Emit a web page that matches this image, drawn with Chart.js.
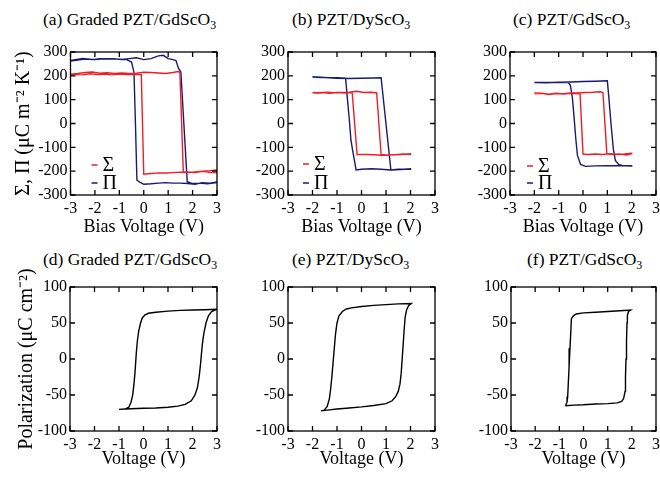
<!DOCTYPE html>
<html>
<head>
<meta charset="utf-8">
<script src="https://cdn.jsdelivr.net/npm/chart.js@4"></script>
<style>
  html, body { margin: 0; padding: 0; background: #fff; overflow: hidden; }
  body { position: relative; width: 660px; height: 478px; }
  canvas { position: absolute; }
  .ttl { position: absolute; font: 17.5px "Liberation Serif", serif; color: #000; white-space: nowrap; }
  .ttl sub { font-size: 0.68em; vertical-align: -0.3em; line-height: 0; }
</style>
</head>
<body>
<div class="ttl" style="left:43px;top:9px">(a) Graded PZT/GdScO<sub>3</sub></div>
<div class="ttl" style="left:292px;top:9px">(b) PZT/DyScO<sub>3</sub></div>
<div class="ttl" style="left:513px;top:9px">(c) PZT/GdScO<sub>3</sub></div>
<div class="ttl" style="left:43px;top:249px">(d) Graded PZT/GdScO<sub>3</sub></div>
<div class="ttl" style="left:292px;top:249px">(e) PZT/DyScO<sub>3</sub></div>
<div class="ttl" style="left:527px;top:249px">(f) PZT/GdScO<sub>3</sub></div>

<canvas id="chartA" width="225" height="210" style="left:0;top:30px"></canvas>
<canvas id="chartB" width="218" height="210" style="left:225px;top:30px"></canvas>
<canvas id="chartC" width="221" height="210" style="left:443px;top:30px"></canvas>
<canvas id="chartD" width="225" height="216" style="left:0;top:262px"></canvas>
<canvas id="chartE" width="218" height="216" style="left:225px;top:262px"></canvas>
<canvas id="chartF" width="221" height="216" style="left:443px;top:262px"></canvas>

<script>
"use strict";

const RED = "rgb(240,30,36)";
const NAVY = "rgb(26,26,116)";
const SERIF = "'Liberation Serif', 'Times New Roman', serif";

// axis ranges
const biasMin = -3, biasMax = 3, biasStep = 1;
const pyroMin = -300, pyroMax = 300, pyroStep = 100;
const polMin = -100, polMax = 100, polStep = 50;

// (a) graded PZT/GdScO3, sweep -3 -> 3 -> -3
const aSigmaV = [-3, -2.7, -2.4, -2.1, -1.8, -1.5, -1.2, -0.9, -0.6, -0.3, 0, 0.3, 0.6, 0.9, 1.2, 1.4, 1.48, 1.62, 1.8, 2.1, 2.4, 2.7, 3,
  3, 2.7, 2.4, 2.1, 1.8, 1.5, 1.2, 0.9, 0.6, 0.3, 0.0, -0.1, -0.4, -0.7, -1, -1.3, -1.6, -1.9, -2.2, -2.5, -2.8, -3];
const aSigma = [207, 210, 214, 216, 211, 213, 210, 212, 210, 211, 215, 214, 212, 210, 214, 218, 215, -203, -203, -206, -201, -205, -207,
  -195, -198, -200, -203, -206, -204, -206, -208, -207, -210, -213, 205, 206, 205, 207, 204, 207, 205, 209, 204, 206, 203];
const aPiV = [-3, -2.7, -2.4, -2.1, -1.8, -1.5, -1.2, -0.9, -0.6, -0.3, 0, 0.3, 0.6, 0.8, 1.0, 1.2, 1.32, 1.42, 1.52, 1.78, 2.0, 2.3, 2.6, 3,
  3, 2.7, 2.4, 2.1, 1.8, 1.5, 1.2, 0.9, 0.6, 0.3, 0, -0.18, -0.28, -0.34, -0.4, -0.5, -0.7, -1, -1.5, -2, -2.5, -3];
const aPi = [262, 266, 270, 268, 272, 270, 271, 268, 272, 276, 268, 272, 284, 286, 272, 268, 264, 232, 216, -244, -252, -250, -253, -248,
  -245, -250, -248, -255, -252, -250, -250, -248, -250, -253, -255, -245, -238, 0, 215, 258, 268, 270, 272, 268, 273, 265];

// (b) PZT/DyScO3
const bSigmaV = [-2, -1.7, -1.4, -1.1, -0.8, -0.5, -0.2, 0.1, 0.4, 0.62, 0.8, 1.0, 1.3, 1.6, 2,
  2, 1.7, 1.4, 1.1, 0.8, 0.5, 0.2, -0.18, -0.38, -0.7, -1.0, -1.3, -1.6, -2];
const bSigma = [130, 128, 131, 129, 130, 131, 135, 130, 131, 128, -130, -133, -131, -130, -127,
  -130, -128, -131, -132, -133, -131, -130, -130, 130, 128, 130, 127, 130, 128];
const bPiV = [-2, -1.5, -1, -0.5, 0, 0.5, 0.8, 1.2, 1.5, 2,
  2, 1.6, 1.2, 0.8, 0.4, 0, -0.22, -0.35, -0.43, -0.5, -0.57, -0.65, -1, -1.5, -2];
const bPi = [195, 193, 190, 189, 190, 191, 192, -195, -192, -192,
  -190, -193, -195, -192, -190, -192, -195, -120, -70, 20, 98, 190, 192, 193, 194];

// (c) PZT/GdScO3
const cSigmaV = [-2, -1.7, -1.4, -1.1, -0.8, -0.5, -0.2, 0.1, 0.4, 0.7, 0.82, 0.98, 1.2, 1.5, 1.8, 2,
  2, 1.7, 1.4, 1.1, 0.8, 0.5, 0.2, 0.0, -0.12, -0.5, -0.8, -1.1, -1.4, -1.7, -2];
const cSigma = [125, 127, 122, 126, 125, 128, 128, 130, 131, 133, 130, -127, -130, -128, -132, -127,
  -125, -128, -130, -127, -130, -128, -130, -128, 125, 127, 124, 127, 123, 127, 128];
const cPiV = [-2, -1.5, -1, -0.5, 0, 0.5, 1.0, 1.07, 1.15, 1.25, 1.33, 1.46, 1.6, 2,
  2, 1.5, 1.0, 0.5, 0.1, -0.1, -0.23, -0.3, -0.37, -0.44, -0.52, -0.6, -1, -1.5, -2];
const cPi = [172, 171, 173, 174, 176, 177, 179, 100, 0, -110, -155, -172, -176, -177,
  -178, -176, -177, -178, -180, -172, -133, -60, 30, 112, 160, 172, 173, 172, 172];

// (d)-(f) P-V loops
const dV = [-1, -0.5, 0, 0.5, 1, 1.4, 1.7, 1.95, 2.1, 2.2, 2.27, 2.32, 2.36, 2.4, 2.46, 2.55, 2.65, 2.78, 3,
  2.5, 2, 1.5, 1, 0.5, 0.2, 0.05, -0.05, -0.12, -0.2, -0.25, -0.29, -0.32, -0.35, -0.39, -0.44, -0.51, -0.6, -0.75, -1];
const dP = [-70, -69, -68.5, -68, -67, -65.5, -63, -58, -50, -40, -25, -10, 5, 20, 35, 50, 60, 66, 69,
  68.5, 68, 67.5, 66.5, 65, 63.5, 61, 57, 50, 38, 25, 10, -5, -20, -35, -50, -60, -67, -69.5, -70];
const eV = [-1.65, -1.4, -1, -0.5, 0, 0.5, 1, 1.25, 1.4, 1.5, 1.57, 1.62, 1.66, 1.7, 1.74, 1.78, 1.84, 1.92, 2.03,
  1.5, 1, 0.5, 0, -0.4, -0.62, -0.78, -0.92, -1.0, -1.06, -1.11, -1.16, -1.21, -1.26, -1.31, -1.4, -1.52, -1.65];
const eP = [-72, -71, -69.5, -68, -66.5, -64.5, -62, -58, -52, -45, -35, -20, 0, 20, 40, 58, 68, 74, 77,
  76.5, 75.5, 74.5, 73, 71, 69.5, 66, 60, 50, 35, 15, -5, -25, -42, -55, -66, -71, -72];
const fV = [-0.75, -0.4, 0, 0.5, 1, 1.4, 1.58, 1.66, 1.72, 1.737, 1.759, 1.78, 1.8, 1.815, 1.86, 1.95,
  1.5, 1, 0.5, 0, -0.3, -0.42, -0.5, -0.523, -0.559, -0.595, -0.631, -0.654, -0.68, -0.75];
const fP = [-65, -64, -63.5, -62.5, -62, -61, -59, -55, -45, -25, 0, 25, 50, 60, 66, 68,
  67, 66, 65, 64, 62.5, 60, 56, 40, 15, -10, -35, -52, -60, -65];

function toPoints(xs, ys) {
  return xs.map((x, i) => ({ x: x, y: ys[i] }));
}

// box around the plot with inward ticks on all four sides
const framePlugin = {
  id: "frame",
  afterDatasetsDraw(chart) {
    const { ctx, chartArea: a, scales } = chart;
    const len = 5;
    ctx.save();
    ctx.strokeStyle = "#000";
    ctx.lineWidth = 1.3;
    ctx.strokeRect(a.left, a.top, a.right - a.left, a.bottom - a.top);
    ctx.beginPath();
    scales.x.ticks.forEach((t) => {
      const px = scales.x.getPixelForValue(t.value);
      ctx.moveTo(px, a.bottom); ctx.lineTo(px, a.bottom - len);
      ctx.moveTo(px, a.top); ctx.lineTo(px, a.top + len);
    });
    scales.y.ticks.forEach((t) => {
      const py = scales.y.getPixelForValue(t.value);
      ctx.moveTo(a.left, py); ctx.lineTo(a.left + len, py);
      ctx.moveTo(a.right, py); ctx.lineTo(a.right - len, py);
    });
    ctx.stroke();
    ctx.restore();
  },
};

// small key in the lower left corner
const keyPlugin = {
  id: "key",
  afterDatasetsDraw(chart, args, opts) {
    if (!opts || opts.x === undefined) return;
    const { ctx, chartArea: a } = chart;
    ctx.save();
    ctx.font = "20px " + SERIF;
    ctx.textBaseline = "middle";
    chart.data.datasets.forEach((ds, i) => {
      const y = a.top + opts.rows[i];
      const x = a.left + opts.x;
      ctx.strokeStyle = ds.borderColor;
      ctx.lineWidth = 1.5;
      ctx.beginPath();
      ctx.moveTo(x, y); ctx.lineTo(x + 6, y);
      ctx.stroke();
      ctx.fillStyle = "#000";
      ctx.fillText(ds.label, x + 11, y + 1);
    });
    ctx.restore();
  },
};

function makePanel(id, cfg) {
  const ctx = document.getElementById(id).getContext("2d");
  return new Chart(ctx, {
    type: "scatter",
    data: {
      datasets: cfg.series.map((s) => ({
        label: s.label,
        data: toPoints(s.v, s.y),
        borderColor: s.color,
        backgroundColor: s.color,
        borderWidth: 1.4,
        showLine: true,
        pointRadius: 0,
        tension: 0,
      })),
    },
    options: {
      responsive: false,
      animation: false,
      devicePixelRatio: 1,
      layout: { padding: { left: 0, right: cfg.padRight, top: cfg.padTop, bottom: 0 } },
      plugins: {
        legend: { display: false },
        tooltip: { enabled: false },
        key: cfg.key || {},
      },
      scales: {
        x: {
          type: "linear",
          min: biasMin,
          max: biasMax,
          ticks: { stepSize: biasStep, padding: 4, color: "#000", font: { family: SERIF, size: 16 } },
          grid: { display: false, drawTicks: false },
          border: { display: false },
          title: {
            display: true,
            text: cfg.xTitle,
            color: "#000",
            font: { family: SERIF, size: 18 },
            padding: { top: 0, bottom: cfg.xTitlePad },
          },
          afterFit: (s) => { s.height = cfg.xHeight; },
        },
        y: {
          type: "linear",
          min: cfg.yMin,
          max: cfg.yMax,
          ticks: { stepSize: cfg.yStep, padding: 3, color: "#000", font: { family: SERIF, size: 16 } },
          grid: { display: false, drawTicks: false },
          border: { display: false },
          title: {
            display: !!cfg.yTitle,
            text: cfg.yTitle || "",
            color: "#000",
            font: { family: SERIF, size: 20 },
            padding: { top: cfg.yTitlePad || 0, bottom: 0 },
          },
          afterFit: (s) => { s.width = cfg.yWidth; },
        },
      },
    },
    plugins: [framePlugin, keyPlugin],
  });
}

const topRow = { yMin: pyroMin, yMax: pyroMax, yStep: pyroStep, padTop: 22, xHeight: 45, xTitle: "Bias Voltage (V)", xTitlePad: 2 };
const bottomRow = { yMin: polMin, yMax: polMax, yStep: polStep, padTop: 25, xHeight: 47, xTitle: "Voltage (V)", xTitlePad: 8 };

function pyroSeries(sv, s, pv, p) {
  return [
    { label: "Σ", v: sv, y: s, color: RED },
    { label: "Π", v: pv, y: p, color: NAVY },
  ];
}

makePanel("chartA", Object.assign({}, topRow, {
  series: pyroSeries(aSigmaV, aSigma, aPiV, aPi),
  yWidth: 70.5, padRight: 6,
  yTitle: "Σ, Π (μC m⁻² K⁻¹)", yTitlePad: 12,
  key: { x: 21, rows: [113, 131] },
}));
makePanel("chartB", Object.assign({}, topRow, {
  series: pyroSeries(bSigmaV, bSigma, bPiV, bPi),
  yWidth: 63, padRight: 8,
  key: { x: 15, rows: [112, 131] },
}));
makePanel("chartC", Object.assign({}, topRow, {
  series: pyroSeries(cSigmaV, cSigma, cPiV, cPi),
  yWidth: 67, padRight: 6,
  key: { x: 17, rows: [114, 131] },
}));
makePanel("chartD", Object.assign({}, bottomRow, {
  series: [{ label: "P", v: dV, y: dP, color: "#000" }],
  yWidth: 70, padRight: 7,
  yTitle: "Polarization (μC cm⁻²)", yTitlePad: 15,
}));
makePanel("chartE", Object.assign({}, bottomRow, {
  series: [{ label: "P", v: eV, y: eP, color: "#000" }],
  yWidth: 63, padRight: 8,
}));
makePanel("chartF", Object.assign({}, bottomRow, {
  series: [{ label: "P", v: fV, y: fP, color: "#000" }],
  yWidth: 68, padRight: 6,
}));
</script>
</body>
</html>
